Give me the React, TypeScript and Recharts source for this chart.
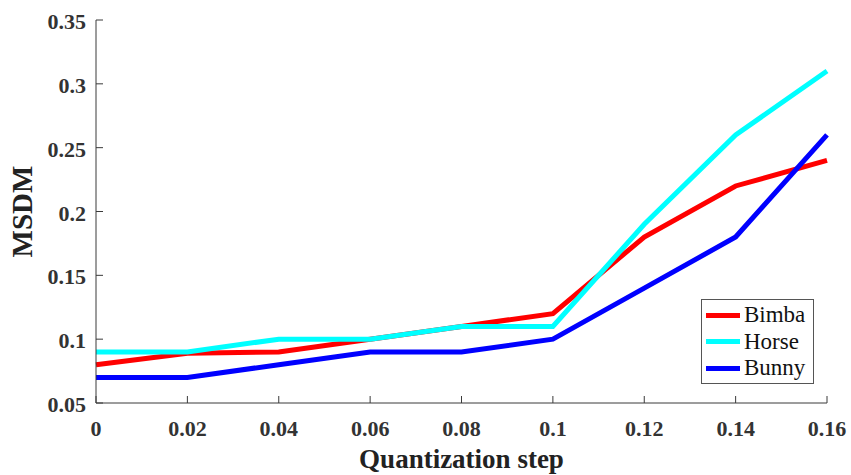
import React from 'react';
import { LineChart, Line, XAxis, YAxis } from 'recharts';

const steps = [0, 0.02, 0.04, 0.06, 0.08, 0.1, 0.12, 0.14, 0.16];
const bimba = [0.08, 0.089, 0.09, 0.1, 0.11, 0.12, 0.18, 0.22, 0.24];
const horse = [0.09, 0.09, 0.1, 0.1, 0.11, 0.11, 0.19, 0.26, 0.31];
const bunny = [0.07, 0.07, 0.08, 0.09, 0.09, 0.1, 0.14, 0.18, 0.26];
const xTicks = [0, 0.02, 0.04, 0.06, 0.08, 0.1, 0.12, 0.14, 0.16];
const yTicks = [0.05, 0.1, 0.15, 0.2, 0.25, 0.3, 0.35];

const seriesInfo = [
  { key: 'Bimba', color: '#ff0000' },
  { key: 'Horse', color: '#00ffff' },
  { key: 'Bunny', color: '#0000ff' },
];

const data = steps.map((s, i) => ({ step: s, Bimba: bimba[i], Horse: horse[i], Bunny: bunny[i] }));

const axisColor = '#3a3a3a';
const serif = 'Liberation Serif, DejaVu Serif, serif';

const XTick = (props: any) => {
  const { x, y, payload } = props;
  return (
    <text x={x} y={y + 25} textAnchor="middle" fontFamily={serif} fontWeight={700} fontSize={22} fill="#333">
      {String(payload.value)}
    </text>
  );
};

const YTick = (props: any) => {
  const { x, y, payload } = props;
  return (
    <text x={x} y={y + 9} textAnchor="end" fontFamily={serif} fontWeight={700} fontSize={22} fill="#333">
      {String(payload.value)}
    </text>
  );
};

const LegendBox = () => (
  <div style={{ position: 'absolute', left: 701, top: 299, border: '1px solid #555', background: '#fff', padding: '2px 4px 2px 4px', width: 113, height: 85, boxSizing: 'border-box' }}>
    {seriesInfo.map((s) => (
      <div key={s.key} style={{ display: 'flex', alignItems: 'center', height: 26.5 }}>
        <div style={{ width: 34, height: 5, background: s.color, marginRight: 4 }} />
        <span style={{ fontFamily: serif, fontSize: 23, color: '#111', lineHeight: '26px' }}>{s.key}</span>
      </div>
    ))}
  </div>
);

export default function App() {
  return (
    <div style={{ position: 'absolute', left: 0, top: 0, width: 851, height: 475, background: '#fff' }}>
      <LineChart width={851} height={475} data={data} margin={{ top: 20, right: 24, bottom: 0, left: 0 }}>
        <XAxis
          xAxisId="b"
          dataKey="step"
          type="number"
          domain={[0, 0.16]}
          ticks={xTicks}
          height={72}
          tickSize={-7}
          tickMargin={15}
          stroke={axisColor}
          tick={<XTick />}
          label={{ value: 'Quantization step', position: 'insideBottom', offset: 7, style: { fontFamily: serif, fontWeight: 700, fontSize: 27, fill: '#222' } }}
        />
        <XAxis
          xAxisId="t"
          dataKey="step"
          type="number"
          orientation="top"
          domain={[0, 0.16]}
          ticks={xTicks}
          tickFormatter={() => ''}
          height={0}
          tickSize={-7}
          stroke={axisColor}
        />
        <YAxis
          yAxisId="l"
          type="number"
          domain={[0.05, 0.35]}
          ticks={yTicks}
          width={96}
          tickSize={-7}
          tickMargin={17}
          stroke={axisColor}
          tick={<YTick />}
          label={{ value: 'MSDM', angle: -90, position: 'insideLeft', offset: 22, style: { fontFamily: serif, fontWeight: 700, fontSize: 29, fill: '#222', textAnchor: 'middle' } }}
        />
        <YAxis
          yAxisId="r"
          type="number"
          orientation="right"
          domain={[0.05, 0.35]}
          ticks={yTicks}
          tickFormatter={() => ''}
          width={0}
          tickSize={-7}
          stroke={axisColor}
        />
        {seriesInfo.map((s) => (
          <Line
            key={s.key}
            xAxisId="b"
            yAxisId="l"
            dataKey={s.key}
            stroke={s.color}
            strokeWidth={5}
            dot={false}
            isAnimationActive={false}
          />
        ))}
      </LineChart>
      <LegendBox />
    </div>
  );
}
